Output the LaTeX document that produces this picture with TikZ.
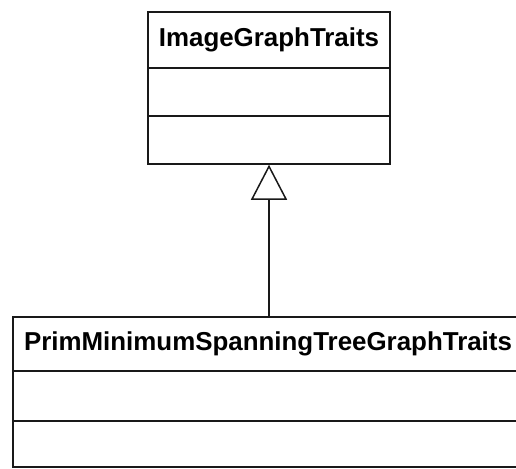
\documentclass[tikz,border=0pt]{standalone}
\usepackage{fontspec}
\setmainfont{Liberation Sans}
\usepackage{tikz}
\usetikzlibrary{arrows.meta,positioning}
\tikzset{
  classname/.style={draw=black!90,line width=1.5pt,minimum height=56pt,inner sep=0pt,
    font=\fontsize{25.9}{30}\selectfont\bfseries},
  classpart/.style={draw=black!90,line width=1.5pt,minimum height=48pt,inner sep=0pt},
  inherit/.style={-{Triangle[open,length=35pt,width=36pt]},line width=1.5pt,draw=black!90}
}
\begin{document}
\begin{tikzpicture}[x=1pt,y=-1pt]
  \useasboundingbox (0,0) rectangle (516,468);
  \node[classname,minimum width=242pt] (img) at (269,40) {ImageGraphTraits};
  \node[classpart,minimum width=242pt,below=-1.5pt of img] (imgattr) {};
  \node[classpart,minimum width=242pt,below=-1.5pt of imgattr] (imgops) {};
  \node[classname,minimum width=510pt,minimum height=54pt] (prim) at (268,344) {PrimMinimumSpanningTreeGraphTraits};
  \node[classpart,minimum width=510pt,minimum height=50pt,below=-1.5pt of prim] (primattr) {};
  \node[classpart,minimum width=510pt,minimum height=46pt,below=-1.5pt of primattr] (primops) {};
  \draw[inherit] (prim.north -| imgops.south) -- (imgops.south);
\end{tikzpicture}
\end{document}
